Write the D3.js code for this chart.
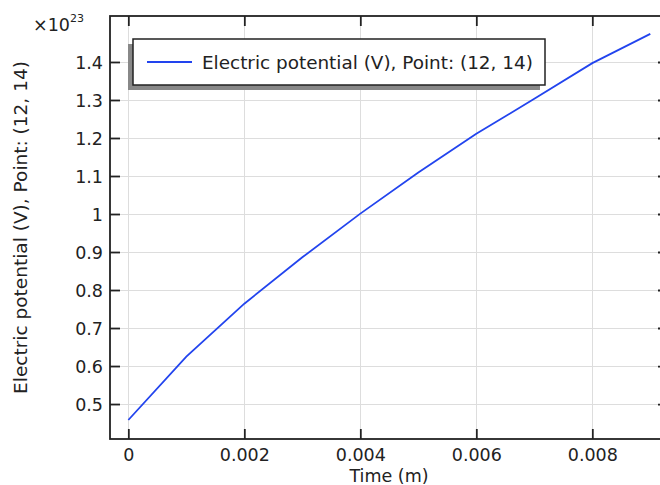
<!DOCTYPE html>
<html><head><meta charset="utf-8">
<script src="https://cdn.jsdelivr.net/npm/d3@7/dist/d3.min.js"></script>
<style>html,body{margin:0;padding:0;background:#fff;}svg{display:block;}</style>
</head><body>
<script>
const timeValues = [0, 0.001, 0.002, 0.003, 0.004, 0.005, 0.006, 0.007, 0.008, 0.009];
const potentialValues = [0.458, 0.625, 0.764, 0.886, 1.001, 1.109, 1.211, 1.303, 1.397, 1.474]; // ×1e23 V
const xTickValues = [0, 0.002, 0.004, 0.006, 0.008];
const xTickLabels = ["0", "0.002", "0.004", "0.006", "0.008"];
const yTickValues = [0.5, 0.6, 0.7, 0.8, 0.9, 1.0, 1.1, 1.2, 1.3, 1.4];
const yTickLabels = ["0.5", "0.6", "0.7", "0.8", "0.9", "1", "1.1", "1.2", "1.3", "1.4"];
const seriesName = "Electric potential (V), Point: (12, 14)";

const W = 660, H = 485;
const L = 110, R = 668, T = 16, B = 439;
const font = "'DejaVu Sans', sans-serif";

const svg = d3.select("body").append("svg").attr("width", W).attr("height", H);

const x = d3.scaleLinear().domain([-0.000316, 0.009305]).range([L, R]);
const y = d3.scaleLinear().domain([0.408, 1.521]).range([B, T]);

// grid
const grid = svg.append("g").attr("stroke", "#dddddd").attr("stroke-width", 1);
grid.selectAll(".gx").data(xTickValues).join("line")
  .attr("x1", d => Math.round(x(d)) + 0.5).attr("x2", d => Math.round(x(d)) + 0.5)
  .attr("y1", T).attr("y2", B);
grid.selectAll(".gy").data(yTickValues).join("line")
  .attr("y1", d => Math.round(y(d)) + 0.5).attr("y2", d => Math.round(y(d)) + 0.5)
  .attr("x1", L).attr("x2", R);

// line
svg.append("path").datum(timeValues.map((t, i) => [t, potentialValues[i]]))
  .attr("fill", "none").attr("stroke", "#2244ee").attr("stroke-width", 1.8)
  .attr("d", d3.line().x(d => x(d[0])).y(d => y(d[1])));

// axes with inward ticks
const tk = 10;
const axB = svg.append("g").attr("transform", `translate(0,${B})`)
  .call(d3.axisBottom(x).tickValues(xTickValues).tickFormat((d, i) => xTickLabels[i]).tickSizeInner(-tk).tickSizeOuter(0).tickPadding(10));
const axT = svg.append("g").attr("transform", `translate(0,${T})`)
  .call(d3.axisTop(x).tickValues(xTickValues).tickFormat("").tickSizeInner(-tk).tickSizeOuter(0));
const axL = svg.append("g").attr("transform", `translate(${L},0)`)
  .call(d3.axisLeft(y).tickValues(yTickValues).tickFormat((d, i) => yTickLabels[i]).tickSizeInner(-tk).tickSizeOuter(0).tickPadding(7));
const axR = svg.append("g").attr("transform", `translate(${R},0)`)
  .call(d3.axisRight(y).tickValues(yTickValues).tickFormat("").tickSizeInner(-tk).tickSizeOuter(0));
[axB, axT, axL, axR].forEach(a => {
  a.select(".domain").remove();
  a.selectAll(".tick line").attr("stroke", "#222").attr("stroke-width", 1.8);
  a.selectAll("text").attr("font-family", font).attr("font-size", 17.5).attr("fill", "#222");
});
axL.selectAll("text").attr("dy", "0.36em");

// frame
svg.append("rect").attr("x", L).attr("y", T).attr("width", R - L).attr("height", B - T)
  .attr("fill", "none").attr("stroke", "#222").attr("stroke-width", 1.8);

// exponent
const ex = svg.append("text").attr("x", 33).attr("y", 31).attr("font-family", font).attr("font-size", 17.5).attr("fill", "#222");
ex.append("tspan").text("×10");
ex.append("tspan").attr("font-size", 11).attr("dy", -9).text("23");

// axis titles
svg.append("text").attr("x", 389).attr("y", 482).attr("text-anchor", "middle")
  .attr("font-family", font).attr("font-size", 17.5).attr("fill", "#222").text("Time (m)");
svg.append("text").attr("transform", `translate(27,${(T + B) / 2}) rotate(-90)`).attr("text-anchor", "middle")
  .attr("font-family", font).attr("font-size", 18.5).attr("fill", "#222").text(seriesName);

// legend
const lg = svg.append("g");
lg.append("rect").attr("x", 128).attr("y", 44).attr("width", 412).attr("height", 46).attr("fill", "#888");
lg.append("rect").attr("x", 133).attr("y", 39).attr("width", 412).attr("height", 46)
  .attr("fill", "#fff").attr("stroke", "#222").attr("stroke-width", 1.5);
lg.append("line").attr("x1", 147).attr("x2", 192).attr("y1", 62).attr("y2", 62)
  .attr("stroke", "#2244ee").attr("stroke-width", 1.8);
lg.append("text").attr("x", 202).attr("y", 62).attr("dy", "0.36em")
  .attr("font-family", font).attr("font-size", 18.4).attr("fill", "#222").text(seriesName);
</script>
</body></html>
